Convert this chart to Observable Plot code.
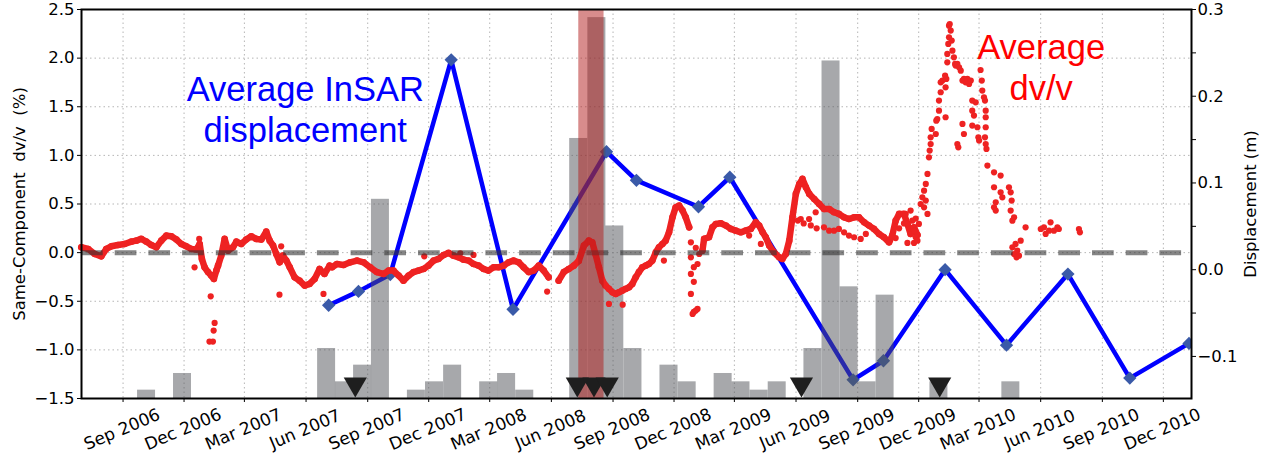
<!DOCTYPE html>
<html><head><meta charset="utf-8">
<script src="https://cdn.jsdelivr.net/npm/d3@7"></script>
<script src="https://cdn.jsdelivr.net/npm/@observablehq/plot@0.6"></script>
<style>body{margin:0;background:#fff;}</style>
</head><body><div id="chart"></div>
<script>
// ---------- data (time as decimal year) ----------
const xTickLabels = ["Sep 2006","Dec 2006","Mar 2007","Jun 2007","Sep 2007","Dec 2007","Mar 2008","Jun 2008","Sep 2008","Dec 2008","Mar 2009","Jun 2009","Sep 2009","Dec 2009","Mar 2010","Jun 2010","Sep 2010","Dec 2010"];
const leftTicks = [-1.5,-1.0,-0.5,0.0,0.5,1.0,1.5,2.0,2.5];
const rightMajorTicks = [-0.1,0.0,0.1,0.2,0.3];
const rightMinorTicks = [-0.05,0.05,0.15,0.25];
const yDomain = [-1.5, 2.5];
const dispDomain = [-0.1485, 0.3];

// average InSAR displacement (m)
const insarT = [2007.506,2007.628,2007.758,2008.007,2008.259,2008.640,2008.762,2009.015,2009.143,2009.647,2009.771,2010.023,2010.274,2010.525,2010.778,2011.020];
const insarD = [-0.041,-0.025,-0.0055,0.242,-0.0457,0.136,0.103,0.0726,0.1066,-0.127,-0.105,0.0,-0.087,-0.005,-0.125,-0.085];

// histogram bars (bin start, count-like value)
const barStart = [2006.725,2006.872,2007.461,2007.534,2007.608,2007.681,2007.828,2007.902,2007.976,2008.123,2008.196,2008.270,2008.490,2008.564,2008.637,2008.711,2008.858,2008.932,2009.079,2009.152,2009.226,2009.300,2009.446,2009.520,2009.594,2009.667,2009.741,2009.961,2010.255];
const barValue = [1,3,6,2,4,23.9,1,2,4,2,3,1,31.2,45.7,20.7,6,4,2,3,2,1,2,6,40.5,13.4,2,12.4,2,2];
const binWidth = 0.0735;

// events (triangles) and highlighted window
const eventT = [2007.615,2008.521,2008.589,2008.643,2009.436,2010.001];
const windowT = [2008.527, 2008.630];

// average dv/v (%), main track (null = gap)
const dvvTrack = [
[2006.495,0.055],[2006.523,0.038],[2006.550,-0.014],[2006.577,-0.038],[2006.597,0.038],[2006.618,0.065],[2006.645,0.079],[2006.672,0.089],[2006.700,0.113],[2006.720,0.123],[2006.740,0.141],[2006.761,0.113],[2006.781,0.079],[2006.802,0.055],[2006.822,0.123],[2006.843,0.175],[2006.863,0.168],[2006.884,0.134],[2006.904,0.089],[2006.924,0.065],[2006.945,0.038],[2006.965,0.031],[2006.979,0.089],[2006.988,-0.065],[2006.999,-0.151],[2007.013,-0.200],[2007.026,-0.236],[2007.037,-0.270],[2007.047,-0.185],[2007.054,-0.134],[2007.067,-0.031],[2007.081,0.141],[2007.095,0.020],[2007.115,0.055],[2007.129,0.113],[2007.149,0.089],[2007.169,0.134],[2007.190,0.168],[2007.210,0.141],[2007.231,0.134],[2007.251,0.216],[2007.265,0.123],[2007.279,0.072],[2007.292,-0.014],[2007.306,-0.100],[2007.319,-0.031],[2007.333,-0.082],[2007.347,-0.151],[2007.367,-0.254],[2007.387,-0.288],[2007.408,-0.339],[2007.428,-0.322],[2007.449,-0.270],[2007.469,-0.168],[2007.489,-0.219],[2007.510,-0.134],
[2007.520,-0.151],[2007.540,-0.117],[2007.567,-0.127],[2007.594,-0.100],[2007.622,-0.082],[2007.649,-0.100],[2007.676,-0.151],[2007.703,-0.200],[2007.730,-0.219],[2007.751,-0.185],[2007.771,-0.185],[2007.792,-0.236],[2007.812,-0.288],[2007.833,-0.236],[2007.853,-0.200],[2007.873,-0.185],[2007.894,-0.168],[2007.914,-0.134],[2007.935,-0.082],[2007.955,-0.065],[2007.976,-0.024],[2007.996,-0.003],[2008.016,-0.031],[2008.037,-0.048],[2008.057,-0.072],[2008.078,-0.082],[2008.098,-0.117],[2008.119,-0.134],[2008.139,-0.168],[2008.159,-0.185],[2008.180,-0.151],[2008.200,-0.151],[2008.221,-0.134],[2008.241,-0.100],[2008.261,-0.082],[2008.282,-0.100],[2008.302,-0.151],[2008.323,-0.200],[2008.343,-0.185],[2008.364,-0.134],[2008.384,-0.185],[2008.404,-0.254],
null,
[2008.445,-0.288],[2008.466,-0.200],[2008.486,-0.168],[2008.507,-0.134],[2008.527,-0.085],[2008.548,0.072],[2008.568,0.123],[2008.582,0.106],[2008.595,-0.014],[2008.609,-0.151],[2008.623,-0.288],[2008.636,-0.339],[2008.650,-0.373],[2008.664,-0.408],[2008.677,-0.425],[2008.691,-0.408],[2008.704,-0.391],[2008.718,-0.373],[2008.732,-0.357],[2008.745,-0.322],[2008.759,-0.254],[2008.772,-0.200],[2008.786,-0.151],[2008.800,-0.134],[2008.813,-0.117],[2008.827,-0.082],[2008.841,0.003],[2008.854,0.055],[2008.868,0.089],[2008.881,0.123],[2008.895,0.209],[2008.909,0.363],[2008.922,0.466],[2008.936,0.483],[2008.950,0.432],[2008.963,0.363],[2008.977,0.260],
null,
[2009.031,0.020],[2009.038,0.141],[2009.058,0.158],[2009.072,0.260],[2009.086,0.295],[2009.106,0.302],[2009.127,0.278],[2009.147,0.244],[2009.167,0.226],[2009.188,0.209],[2009.208,0.226],[2009.229,0.244],[2009.249,0.312],[2009.263,0.278],[2009.277,0.209],[2009.290,0.158],[2009.304,0.072],[2009.324,0.003],[2009.345,-0.048],[2009.358,-0.065],[2009.372,-0.014],[2009.386,0.123],[2009.399,0.363],[2009.413,0.604],[2009.427,0.706],[2009.440,0.758],[2009.454,0.672],[2009.468,0.604],[2009.488,0.552],[2009.508,0.501],[2009.528,0.449],[2009.549,0.449],[2009.569,0.415],[2009.589,0.398],[2009.610,0.363],[2009.630,0.346],[2009.651,0.363],[2009.671,0.363],[2009.692,0.312],[2009.712,0.278],[2009.732,0.244],[2009.753,0.192],[2009.773,0.158],[2009.794,0.106],[2009.807,0.175],[2009.821,0.329],[2009.835,0.398],[2009.855,0.398],[2009.869,0.295],[2009.882,0.192],[2009.896,0.260],[2009.910,0.180]
];

// average dv/v (%), scattered points
const dvvScatter = [
[2006.958,-0.151],[2006.977,0.141],[2007.024,-0.449],[2007.040,-0.723],[2007.036,-0.802],[2007.019,-0.915],[2007.033,-0.915],[2007.305,-0.432],[2007.485,-0.425],[2007.312,0.065],[2007.897,-0.038],[2008.098,-0.024],[2008.044,-0.007],[2008.398,-0.401],[2008.650,-0.528],[2008.706,-0.535],[2008.874,-0.082],
[2008.984,0.106],[2008.984,-0.048],[2008.984,-0.219],[2008.984,-0.425],[2008.991,-0.630],[2008.996,-0.610],[2009.004,-0.596],[2009.011,-0.579],[2008.996,-0.300],[2008.996,-0.150],[2009.011,-0.117],[2009.018,-0.014],[2009.004,0.050],
[2009.222,0.175],[2009.270,0.089],[2009.421,0.330],[2009.433,0.346],[2009.467,0.346],[2009.494,0.415],[2009.528,0.260],
[2009.445,0.300],[2009.474,0.280],[2009.498,0.250],[2009.549,0.226],[2009.569,0.226],[2009.589,0.244],[2009.610,0.209],[2009.630,0.175],[2009.651,0.158],[2009.678,0.141],[2009.699,0.192],
[2009.821,0.150],[2009.835,0.250],[2009.855,0.300],[2009.869,0.100],[2009.896,0.100],[2009.903,0.350],
[2009.862,0.398],[2009.869,0.295],[2009.882,0.432],[2009.889,0.329],[2009.896,0.226],[2009.903,0.158],[2009.910,0.123],[2009.916,0.295],[2009.923,0.500],[2009.930,0.569],[2009.937,0.466],[2009.944,0.535],[2009.951,0.398],[2009.937,0.637],[2009.944,0.706],[2009.951,0.809],
[2009.957,0.980],[2009.960,1.049],[2009.964,1.117],[2009.964,1.186],[2009.968,1.272],[2009.985,1.220],[2009.987,1.357],[2009.991,1.374],[2009.998,1.460],[2009.998,1.563],[2010.005,1.649],[2010.005,1.751],[2010.012,1.769],[2010.023,1.820],[2010.025,1.700],[2010.028,1.786],[2010.032,1.957],[2010.032,2.043],[2010.036,2.146],[2010.039,2.214],[2010.039,2.334],[2010.042,2.351],[2010.046,2.283],[2010.050,2.180],[2010.053,2.077],[2010.059,2.008],[2010.064,1.940],[2010.066,1.923],[2010.073,1.940],[2010.080,1.906],[2010.087,1.871],[2010.094,1.769],[2010.100,1.786],[2010.107,1.751],[2010.114,1.786],[2010.121,1.734],[2010.128,1.769],
[2010.168,1.878],[2010.173,1.769],[2010.175,1.666],[2010.182,1.597],[2010.186,1.563],[2010.189,1.460],[2010.189,1.392],[2010.189,1.289],[2010.186,1.186],[2010.189,1.117],[2010.192,1.066],[2010.196,0.895],[2010.223,0.826],[2010.250,0.792],[2010.223,0.672],[2010.230,0.517],[2010.223,0.466],[2010.230,0.432],[2010.250,0.620],[2010.257,0.569],[2010.284,0.672],[2010.291,0.620],[2010.295,0.535],[2010.291,0.432],[2010.298,0.329],[2010.305,0.363],[2010.352,0.260],[2010.332,0.123],[2010.298,0.055],[2010.305,-0.014],[2010.311,0.089],[2010.318,0.020],[2010.325,-0.031],[2010.315,-0.048],
[2010.025,1.392],[2010.073,1.117],[2010.077,1.083],[2010.094,1.323],[2010.100,1.220],[2010.134,1.563],[2010.134,1.460],[2010.134,1.306],[2010.141,1.409],[2010.155,1.289],[2010.159,1.186],[2010.162,1.152],[2010.148,1.546],
[2010.414,0.243],[2010.427,0.260],[2010.434,0.192],[2010.448,0.226],[2010.454,0.312],[2010.468,0.226],[2010.482,0.260],[2010.488,0.243],[2010.570,0.243],[2010.574,0.209]
];

// annotations
const annoBlue = ["Average InSAR", "displacement"];
const annoRed = ["Average", "dv/v"];

// ---------- helpers ----------
function toDate(t) {
  const y = Math.floor(t);
  const s = Date.UTC(y, 0, 1), e = Date.UTC(y + 1, 0, 1);
  return new Date(s + (t - y) * (e - s));
}
const toLeft = d => yDomain[0] + (d - dispDomain[0]) / (dispDomain[1] - dispDomain[0]) * (yDomain[1] - yDomain[0]);
const parseTick = d3.utcParse("%b %Y");
const xTickDates = xTickLabels.map(parseTick);

const insar = insarT.map((t, i) => ({date: toDate(t), y: toLeft(insarD[i])}));
const bars = barStart.map((t, i) => ({x1: toDate(t), x2: toDate(t + binWidth), top: yDomain[0] + barValue[i] * 0.0857}));
const track = dvvTrack.map(p => p ? {date: toDate(p[0]), v: p[1]} : {date: null, v: NaN});
const trackPts = track.filter(d => d.date);
const scatter = dvvScatter.map(p => ({date: toDate(p[0]), v: p[1]}));
const events = eventT.map(toDate);

const rightAll = [...rightMajorTicks, ...rightMinorTicks];
const rightLabel = new Map(rightAll.map(d => [toLeft(d), rightMajorTicks.includes(d) ? d3.format(".1f")(d) : ""]));

const downTriangle = {
  draw(ctx, size) {
    const y = Math.sqrt(size / (3 * Math.sqrt(3)));
    ctx.moveTo(0, 2 * y);
    ctx.lineTo(-Math.sqrt(3) * y, -y);
    ctx.lineTo(Math.sqrt(3) * y, -y);
    ctx.closePath();
  }
};

const red = "#ee2222";

const chart = Plot.plot({
  width: 1270,
  height: 461,
  marginLeft: 81,
  marginRight: 79,
  marginTop: 9,
  marginBottom: 63,
  style: {fontFamily: "DejaVu Sans", fontSize: "16px", background: "white", color: "black"},
  x: {type: "utc", domain: [new Date(Date.UTC(2006, 6, 1)), new Date(Date.UTC(2011, 0, 12))], label: null},
  y: {domain: yDomain, label: null},
  marks: [
    Plot.ruleX(xTickDates, {stroke: "#b5b5b5", strokeWidth: 1, strokeDasharray: "1.5,3"}),
    Plot.ruleY(leftTicks, {stroke: "#b5b5b5", strokeWidth: 1, strokeDasharray: "1.5,3"}),
    Plot.line(insar, {x: "date", y: "y", stroke: "#0000ff", strokeWidth: 4.5, clip: true}),
    Plot.dot(insar, {x: "date", y: "y", symbol: "diamond2", r: 6, fill: "#3a5aa8", clip: true}),
    Plot.rect(bars, {x1: "x1", x2: "x2", y1: () => yDomain[0], y2: "top", fill: "#4f5257", fillOpacity: 0.5}),
    Plot.line(track, {x: "date", y: "v", stroke: red, strokeWidth: 6.5, strokeLinejoin: "round"}),
    Plot.dot(trackPts, {x: "date", y: "v", r: 3.3, fill: red}),
    Plot.dot(scatter, {x: "date", y: "v", r: 3.1, fill: red}),
    Plot.ruleY([0], {stroke: "#333", strokeOpacity: 0.6, strokeWidth: 5, strokeDasharray: "21.7,12"}),
    Plot.rect([windowT], {x1: d => toDate(d[0]), x2: d => toDate(d[1]), fill: "#b21a1a", fillOpacity: 0.5}),
    Plot.dot(events, {x: d => d, frameAnchor: "bottom", dy: -14.3, symbol: downTriangle, r: 8.6, fill: "#1e1e1e"}),
    Plot.frame({stroke: "black", strokeWidth: 2}),
    Plot.axisY(leftTicks, {anchor: "left", tickFormat: d3.format(".1f"), tickSize: 4, tickPadding: 3, fontSize: 16.5, label: null}),
    Plot.axisY(rightAll.map(toLeft), {anchor: "right", tickFormat: v => rightLabel.get(v) ?? "", tickSize: 4, tickPadding: 2, fontSize: 16.5, label: null}),
    Plot.axisX(xTickDates, {anchor: "bottom", tickSize: 4, tickFormat: () => "", label: null}),
    Plot.text(xTickLabels, {x: d => parseTick(d), text: d => d, frameAnchor: "bottom", dy: 31, dx: -1, rotate: -23, textAnchor: "middle", lineAnchor: "middle", fontSize: 17}),
    Plot.text(["Same-Component\u00a0 dv/v\u00a0 (%)"], {text: d => d, frameAnchor: "left", dx: -62, rotate: -90, textAnchor: "middle", lineAnchor: "middle", fontSize: 16.5}),
    Plot.text(["Displacement (m)"], {text: d => d, frameAnchor: "right", dx: 59, rotate: -90, textAnchor: "middle", lineAnchor: "middle", fontSize: 16.5}),
    Plot.text(annoBlue, {x: () => toDate(2007.4105), y: (d, i) => [1.676, 1.247][i], text: d => d, fill: "#0000ff", fontFamily: "Liberation Sans", fontSize: 34.5, textAnchor: "middle", lineAnchor: "middle"}),
    Plot.text(annoRed, {x: () => toDate(2010.4156), y: (d, i) => [2.105, 1.686][i], text: d => d, fill: "#ff0000", fontFamily: "Liberation Sans", fontSize: 34.5, textAnchor: "middle", lineAnchor: "middle"})
  ]
});
document.getElementById("chart").appendChild(chart);
</script></body></html>
